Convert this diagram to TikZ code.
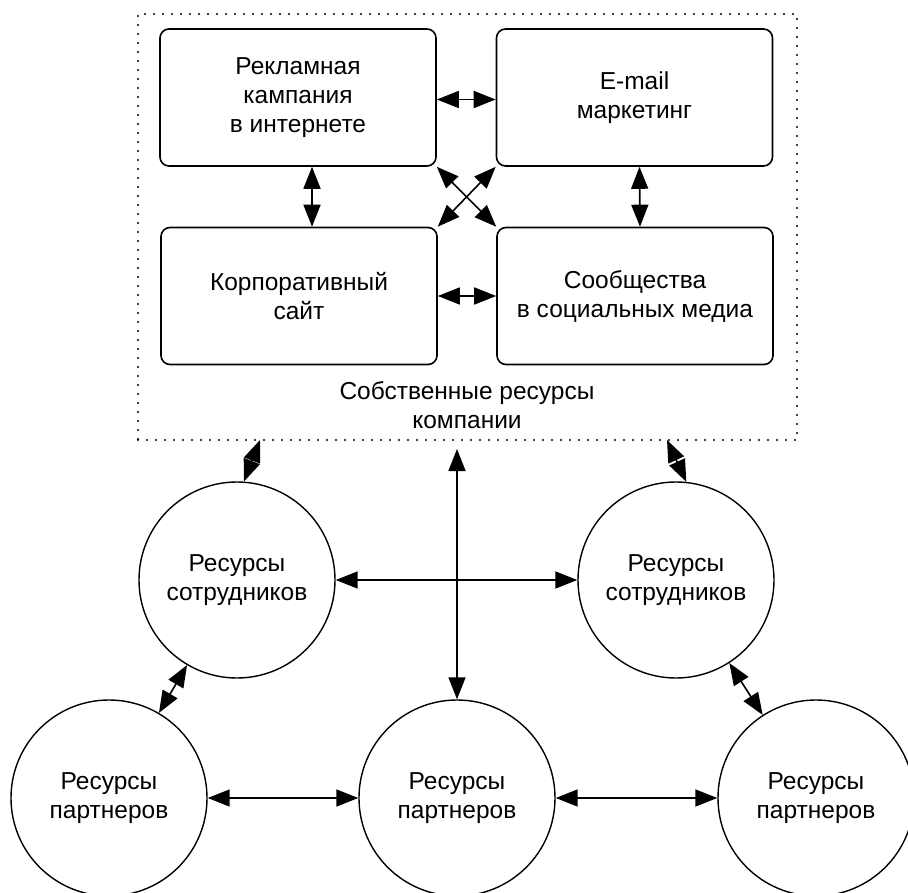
\documentclass[tikz,border=0pt]{standalone}
\usepackage{fontspec}
\setmainfont{Liberation Sans}
\usetikzlibrary{arrows.meta}
\begin{document}
\begin{tikzpicture}[x=1pt,y=-1pt,
  lbl/.style={align=center, font=\fontsize{24.5}{29}\selectfont},
  box/.style={lbl, draw, line width=1.6pt, rounded corners=9pt, minimum width=276pt, minimum height=137pt, inner sep=0pt},
  circ/.style={lbl, draw, circle, line width=1.4pt, minimum size=196pt, inner sep=0pt},
  dbl/.style={{Triangle[length=22pt,width=17pt]}-{Triangle[length=22pt,width=17pt]}, line width=1.6pt}]
\useasboundingbox (0,0) rectangle (908,893);
\fill[white] (0,0) rectangle (908,893);
% company resources frame
\node[draw, line width=2.2pt, dash pattern=on 0pt off 9pt, line cap=round, minimum width=659pt, minimum height=426pt, inner sep=0pt] (own) at (467.5,227) {};
\node[box] (tl) at (298,97.5) {Рекламная\\кампания\\в интернете};
\node[box] (tr) at (634.5,97.5) {E-mail\\маркетинг};
\node[box] (bl) at (299,296) {Корпоративный\\сайт};
\node[box] (br) at (635,296) {Сообщества\\в социальных медиа};
\node[lbl] (ownlbl) at (467,405) {Собственные ресурсы\\компании};
% circles
\node[circ] (emp1) at (237,580) {Ресурсы\\сотрудников};
\node[circ] (emp2) at (676,580) {Ресурсы\\сотрудников};
\node[circ] (part1) at (109,798) {Ресурсы\\партнеров};
\node[circ] (part2) at (457,798) {Ресурсы\\партнеров};
\node[circ] (part3) at (816,798) {Ресурсы\\партнеров};
% free ends
\coordinate (ownL) at (260,440);
\coordinate (ownR) at (667,440);
\coordinate (ownC) at (457,449);
% connectors inside frame
\draw[dbl] ([yshift=-2pt]tl.east) -- ([yshift=-2pt]tr.west);
\draw[dbl] (bl.east) -- (br.west);
\draw[dbl] ([xshift=14pt]tl.south) -- ([xshift=13pt]bl.north);
\draw[dbl] ([xshift=5pt]tr.south) -- ([xshift=5pt]br.north);
\draw[dbl] (tl.south east) -- (br.north west);
\draw[dbl] (tr.south west) -- (bl.north east);
% connectors outside
\draw[dbl] (ownL) -- (emp1.86);
\draw[dbl] (ownR) -- (emp2.84);
\draw[dbl] (ownC) -- (part2.north);
\draw[dbl] (emp1.east) -- (emp2.west);
\draw[dbl] (emp1) -- (part1);
\draw[dbl] (emp2) -- (part3);
\draw[dbl] (part1.east) -- (part2.west);
\draw[dbl] (part2.east) -- (part3.west);
\end{tikzpicture}
\end{document}
